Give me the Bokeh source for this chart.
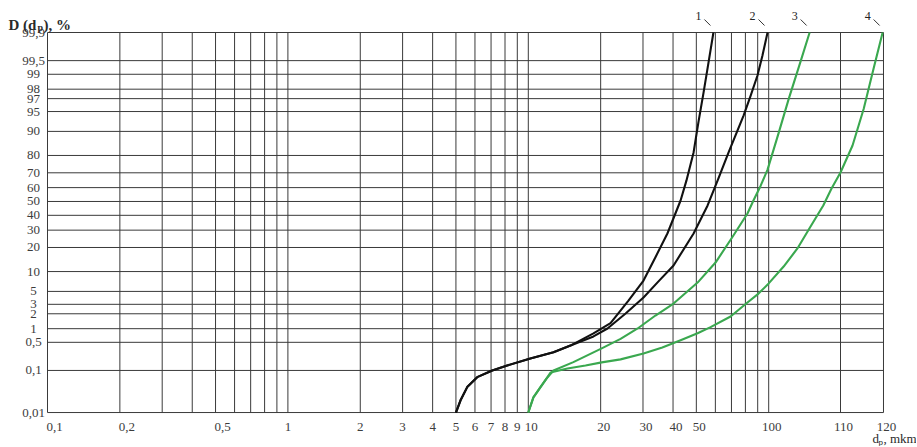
import numpy as np
from statistics import NormalDist
from bokeh.plotting import figure
from bokeh.models import Range1d
from bokeh.core.properties import value
from bokeh.embed import file_html
from bokeh.resources import INLINE

# ---------------- data (particle size d_p in mkm, cumulative D in %) ----------------
d_curve1 = [5.0, 5.22, 5.57, 6.13, 7.08, 8.17, 10.2, 12.73, 14.98, 18.67, 21.98, 26.1, 30.15,
            33.8, 37.9, 43.0, 45.5, 48.7, 51.0, 53.6, 56.2, 58.9]
D_curve1 = [0.01, 0.020, 0.042, 0.071, 0.1, 0.135, 0.205, 0.29, 0.42, 0.79, 1.3, 3.5, 7.4,
            15.4, 27.9, 50.7, 65.0, 81.5, 92.6, 97.7, 99.45, 99.9]

d_curve2 = [5.0, 5.22, 5.57, 6.13, 7.08, 8.17, 10.2, 12.73, 14.98, 18.67, 21.35, 25.4, 30.15,
            34.8, 40.2, 48.7, 55.7, 61.8, 68.1, 78.6, 84.0, 89.8, 94.2, 98.9]
D_curve2 = [0.01, 0.020, 0.042, 0.071, 0.1, 0.135, 0.205, 0.29, 0.42, 0.68, 1.01, 2.03, 3.96,
            7.2, 12.1, 27.9, 47.1, 66.3, 81.5, 94.2, 97.3, 98.94, 99.62, 99.9]

d_curve3 = [10.0, 10.5, 11.24, 11.9, 12.73, 15.4, 20.2, 24.2, 28.5, 33.8, 40.2, 50.6, 60.1,
            70.0, 81.6, 86.4, 92.4, 98.9, 101.4, 102.8, 104.4, 105.7]
D_curve3 = [0.01, 0.024, 0.042, 0.066, 0.1, 0.165, 0.36, 0.6, 1.01, 1.85, 3.1, 6.9, 13.2,
            24.9, 41.3, 50.7, 61.0, 72.0, 89.6, 97.0, 99.45, 99.9]

d_curve4 = [10.0, 10.5, 11.24, 11.9, 12.37, 14.55, 17.3, 20.2, 24.2, 30.15, 36.1, 43.0, 50.6,
            57.3, 69.4, 81.6, 90.7, 100.0, 102.08, 104.0, 105.83, 107.6, 108.75, 110.0, 112.8,
            115.4, 117.7, 119.8]
D_curve4 = [0.01, 0.024, 0.042, 0.066, 0.09, 0.113, 0.135, 0.163, 0.194, 0.273, 0.38, 0.56, 0.8,
            1.08, 1.77, 3.24, 4.6, 6.7, 11.7, 19.5, 32.4, 47.1, 59.4, 70.2, 84.7,
            95.5, 99.25, 99.9]

curve_names = ["1", "2", "3", "4"]

y_ticks = [0.01, 0.1, 0.5, 1, 2, 3, 5, 10, 20, 30, 40, 50, 60, 70, 80, 90, 95, 97, 98, 99, 99.5, 99.9]
y_labels = ["0,01", "0,1", "0,5", "1", "2", "3", "5", "10", "20", "30", "40", "50", "60", "70",
            "80", "90", "95", "97", "98", "99", "99,5", "99,9"]
x_ticks = [0.1, 0.2, 0.5, 1, 2, 3, 4, 5, 6, 7, 8, 9, 10, 20, 30, 40, 50, 100, 110, 120]
x_labels = ["0,1", "0,2", "0,5", "1", "2", "3", "4", "5", "6", "7", "8", "9", "10", "20", "30",
            "40", "50", "100", "110", "120"]
x_minor = [0.3, 0.4, 0.6, 0.7, 0.8, 0.9, 60, 70, 80, 90]

# ---------------- axis transforms of the printed grid ----------------
ND = NormalDist()
Z_01 = ND.inv_cdf(0.001)
K_LOW = 1.224            # the printed grid stretches the part below 0,1 %


def Y(pct):
    z = ND.inv_cdf(pct / 100.0)
    if pct < 0.1:
        z = Z_01 + (z - Z_01) * K_LOW
    return z


X_BREAK = [100.0, 110.0, 120.0]       # logarithmic up to 100, then hand-spaced
U_BREAK = [3.0, 3.2987, 3.4775]


def U(d):
    if d <= 100:
        return float(np.log10(d) + 1.0)
    return float(np.interp(d, X_BREAK, U_BREAK))


# ---------------- layout ----------------
W, H = 916, 446
PX_X = 240.4          # pixels per decade
PX_Y = 54.68          # pixels per probit unit
LEFT, TOP = 47, 32    # page position of (0,1 ; 99,9)

Y99 = Y(99.9)
x_lo = U(0.1) - LEFT / PX_X
x_hi = U(0.1) + (W - LEFT) / PX_X
y_hi = Y99 + TOP / PX_Y
y_lo = Y99 - (H - TOP) / PX_Y

p = figure(width=W, height=H, x_range=Range1d(x_lo, x_hi), y_range=Range1d(y_lo, y_hi),
           output_backend="svg", toolbar_location=None, min_border=0,
           x_axis_location=None, y_axis_location=None)
p.grid.visible = False
p.outline_line_color = None
p.background_fill_color = "white"

FONT = value("Liberation Serif")
LAB_COL = "#3c3c3c"
GRID_COL = "#3a3a3a"

y_bot = Y(0.01)

# grid
vx = sorted(x_ticks + x_minor)
p.segment(x0=[U(v) for v in vx], y0=[y_bot] * len(vx), x1=[U(v) for v in vx], y1=[Y99] * len(vx),
          line_color=GRID_COL, line_width=1)
p.segment(x0=[U(0.1)] * len(y_ticks), y0=[Y(v) for v in y_ticks],
          x1=[U(120)] * len(y_ticks), y1=[Y(v) for v in y_ticks],
          line_color=GRID_COL, line_width=1)

# tick labels
p.text(x=[U(0.1)] * len(y_ticks), y=[Y(v) for v in y_ticks], text=y_labels,
       x_offset=-14, y_offset=0, text_font=FONT, text_font_size="13px", text_color=LAB_COL,
       text_align="center", text_baseline="middle")
x_off = [0 if len(s) == 1 else (7 if s.startswith("0,") else 3) for s in x_labels]
p.text(x=[U(v) for v in x_ticks], y=[y_bot] * len(x_ticks), text=x_labels,
       x_offset=x_off, y_offset=14, text_font=FONT, text_font_size="13px", text_color=LAB_COL,
       text_align="center", text_baseline="middle")

# curves
curves = [(d_curve1, D_curve1, "#111111"), (d_curve2, D_curve2, "#111111"),
          (d_curve3, D_curve3, "#3aa84f"), (d_curve4, D_curve4, "#3aa84f")]
for (dd, DD, col), name in zip(curves, curve_names):
    xs = [U(v) for v in dd]
    ys = [Y(v) for v in DD]
    p.line(xs, ys, line_color=col, line_width=2.1, line_join="round")
    xe, ye = xs[-1], ys[-1]
    p.segment(x0=[xe - 9 / PX_X], y0=[ye + 13 / PX_Y], x1=[xe - 3 / PX_X], y1=[ye + 7 / PX_Y],
              line_color="#333333", line_width=1)
    p.text(x=[xe], y=[ye], text=[name], x_offset=-15, y_offset=-17,
           text_font=FONT, text_font_size="12px", text_color="#222222",
           text_align="center", text_baseline="middle")

# title  D (d_p), %   and axis name  d_p, mkm  (anchored to the grid corners)
xt0 = U(0.1)
p.text(x=[xt0, xt0, xt0], y=[Y99] * 3, text=["D (d", "p", "), %"],
       x_offset=[-39, -10, -4], y_offset=[-8, -5, -8],
       text_font=FONT, text_font_size=["15px", "10px", "15px"], text_font_style="bold",
       text_color="#2a2a2a", text_align="left", text_baseline="alphabetic")
xr = U(120)
p.text(x=[xr, xr, xr], y=[y_bot] * 3, text=["d", "p", ", mkm"],
       x_offset=[-11, -5, 0], y_offset=[26, 29, 26],
       text_font=FONT, text_font_size=["13px", "9px", "13px"],
       text_color="#2a2a2a", text_align="left", text_baseline="alphabetic")

open("out.html", "w").write(file_html(p, INLINE))
